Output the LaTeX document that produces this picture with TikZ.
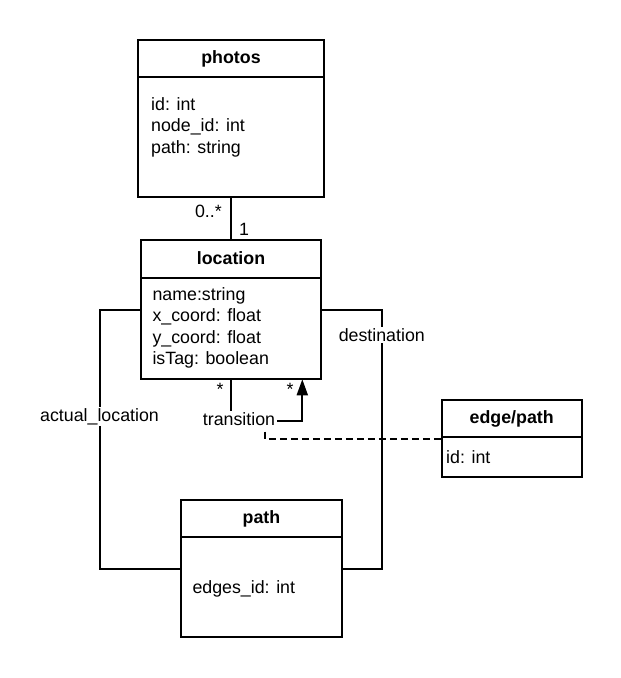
\documentclass[tikz,border=0pt]{standalone}
\usepackage{fontspec}
\setmainfont{Liberation Sans}
\usetikzlibrary{arrows.meta}
\begin{document}
\begin{tikzpicture}[x=1pt,y=-1pt,
  every node/.style={font=\fontsize{17.8}{21.4}\selectfont},
  hdr/.style={draw, line width=2pt, rectangle, inner sep=0pt, outer sep=0pt,
    font=\fontsize{17.8}{21.4}\selectfont\bfseries, text height=13pt, text depth=2.6pt},
  bdy/.style={draw, line width=2pt, rectangle, inner sep=0pt, outer sep=0pt},
  attr/.style={anchor=base west, inner sep=0pt},
  mult/.style={inner sep=0pt},
  lbl/.style={fill=white, inner sep=1.5pt},
  assoc/.style={line width=2pt},
  aclass/.style={line width=2pt, dash pattern=on 7pt off 4pt}]
\useasboundingbox (0,0) rectangle (621,678);
\fill[white] (0,0) rectangle (621,678);

% photos
\node[hdr, minimum width=186pt, minimum height=37pt] (phH) at (231,58.5) {photos};
\node[bdy, minimum width=186pt, minimum height=120pt] (phB) at (231,137) {};
\node[attr] (ph1) at (151,110) {id: int};
\node[attr] (ph2) at (151,131.6) {node\_id: int};
\node[attr] (ph3) at (151,153) {path: string};

% location
\node[hdr, minimum width=180pt, minimum height=38.3pt] (loH) at (231,259.15) {location};
\node[bdy, minimum width=180pt, minimum height=101pt] (loB) at (231,328.8) {};
\node[attr] (lo1) at (152.3,300.5) {name:string};
\node[attr] (lo2) at (152.3,321.8) {x\_coord: float};
\node[attr] (lo3) at (152.3,343.1) {y\_coord: float};
\node[attr] (lo4) at (152.3,364.4) {isTag: boolean};

% path
\node[hdr, minimum width=161pt, minimum height=37.3pt] (paH) at (261.5,518.65) {path};
\node[bdy, minimum width=161pt, minimum height=99.7pt] (paB) at (261.5,587.15) {};
\node[attr] (pa1) at (192.3,593.5) {edges\_id: int};

% edge/path
\node[hdr, minimum width=140pt, minimum height=36.7pt] (epH) at (511.7,418.35) {edge/path};
\node[bdy, minimum width=140pt, minimum height=40.6pt] (epB) at (511.7,457) {};
\node[attr] (ep1) at (446,463) {id: int};

% photos -- location
\draw[assoc] (phB.south) -- (loH.north);
\node[mult, anchor=base east] (m1) at (222,217) {0..*};
\node[mult, anchor=base west] (m2) at (239,235) {1};

% actual_location
\draw[assoc] ([yshift=-31.7pt]loB.north west) -| ([xshift=-81pt,yshift=18.15pt]paB.west) -- ([yshift=18.15pt]paB.west);
\node[lbl] (al) at (99.5,416.7) {actual\_location};

% destination
\draw[assoc] ([yshift=-31.7pt]loB.north east) -| ([xshift=40.2pt,yshift=18.15pt]paB.east) -- ([yshift=18.15pt]paB.east);
\node[lbl] (de) at (381.8,335) {destination};

% transition (self association)
\draw[assoc, -{Triangle[length=16pt,width=11pt]}] (loB.south) -- ++(0,41.4) -| ([xshift=71.3pt]loB.south);
\node[lbl] (tr) at (239,419.3) {transition};
\node[mult, anchor=base] (m3) at (220,395) {*};
\node[mult, anchor=base] (m4) at (290,395) {*};

% association class link
\coordinate (ac) at (265,431.5);
\draw[aclass] (ac) |- ([yshift=-2pt]epH.south west);
\end{tikzpicture}
\end{document}
